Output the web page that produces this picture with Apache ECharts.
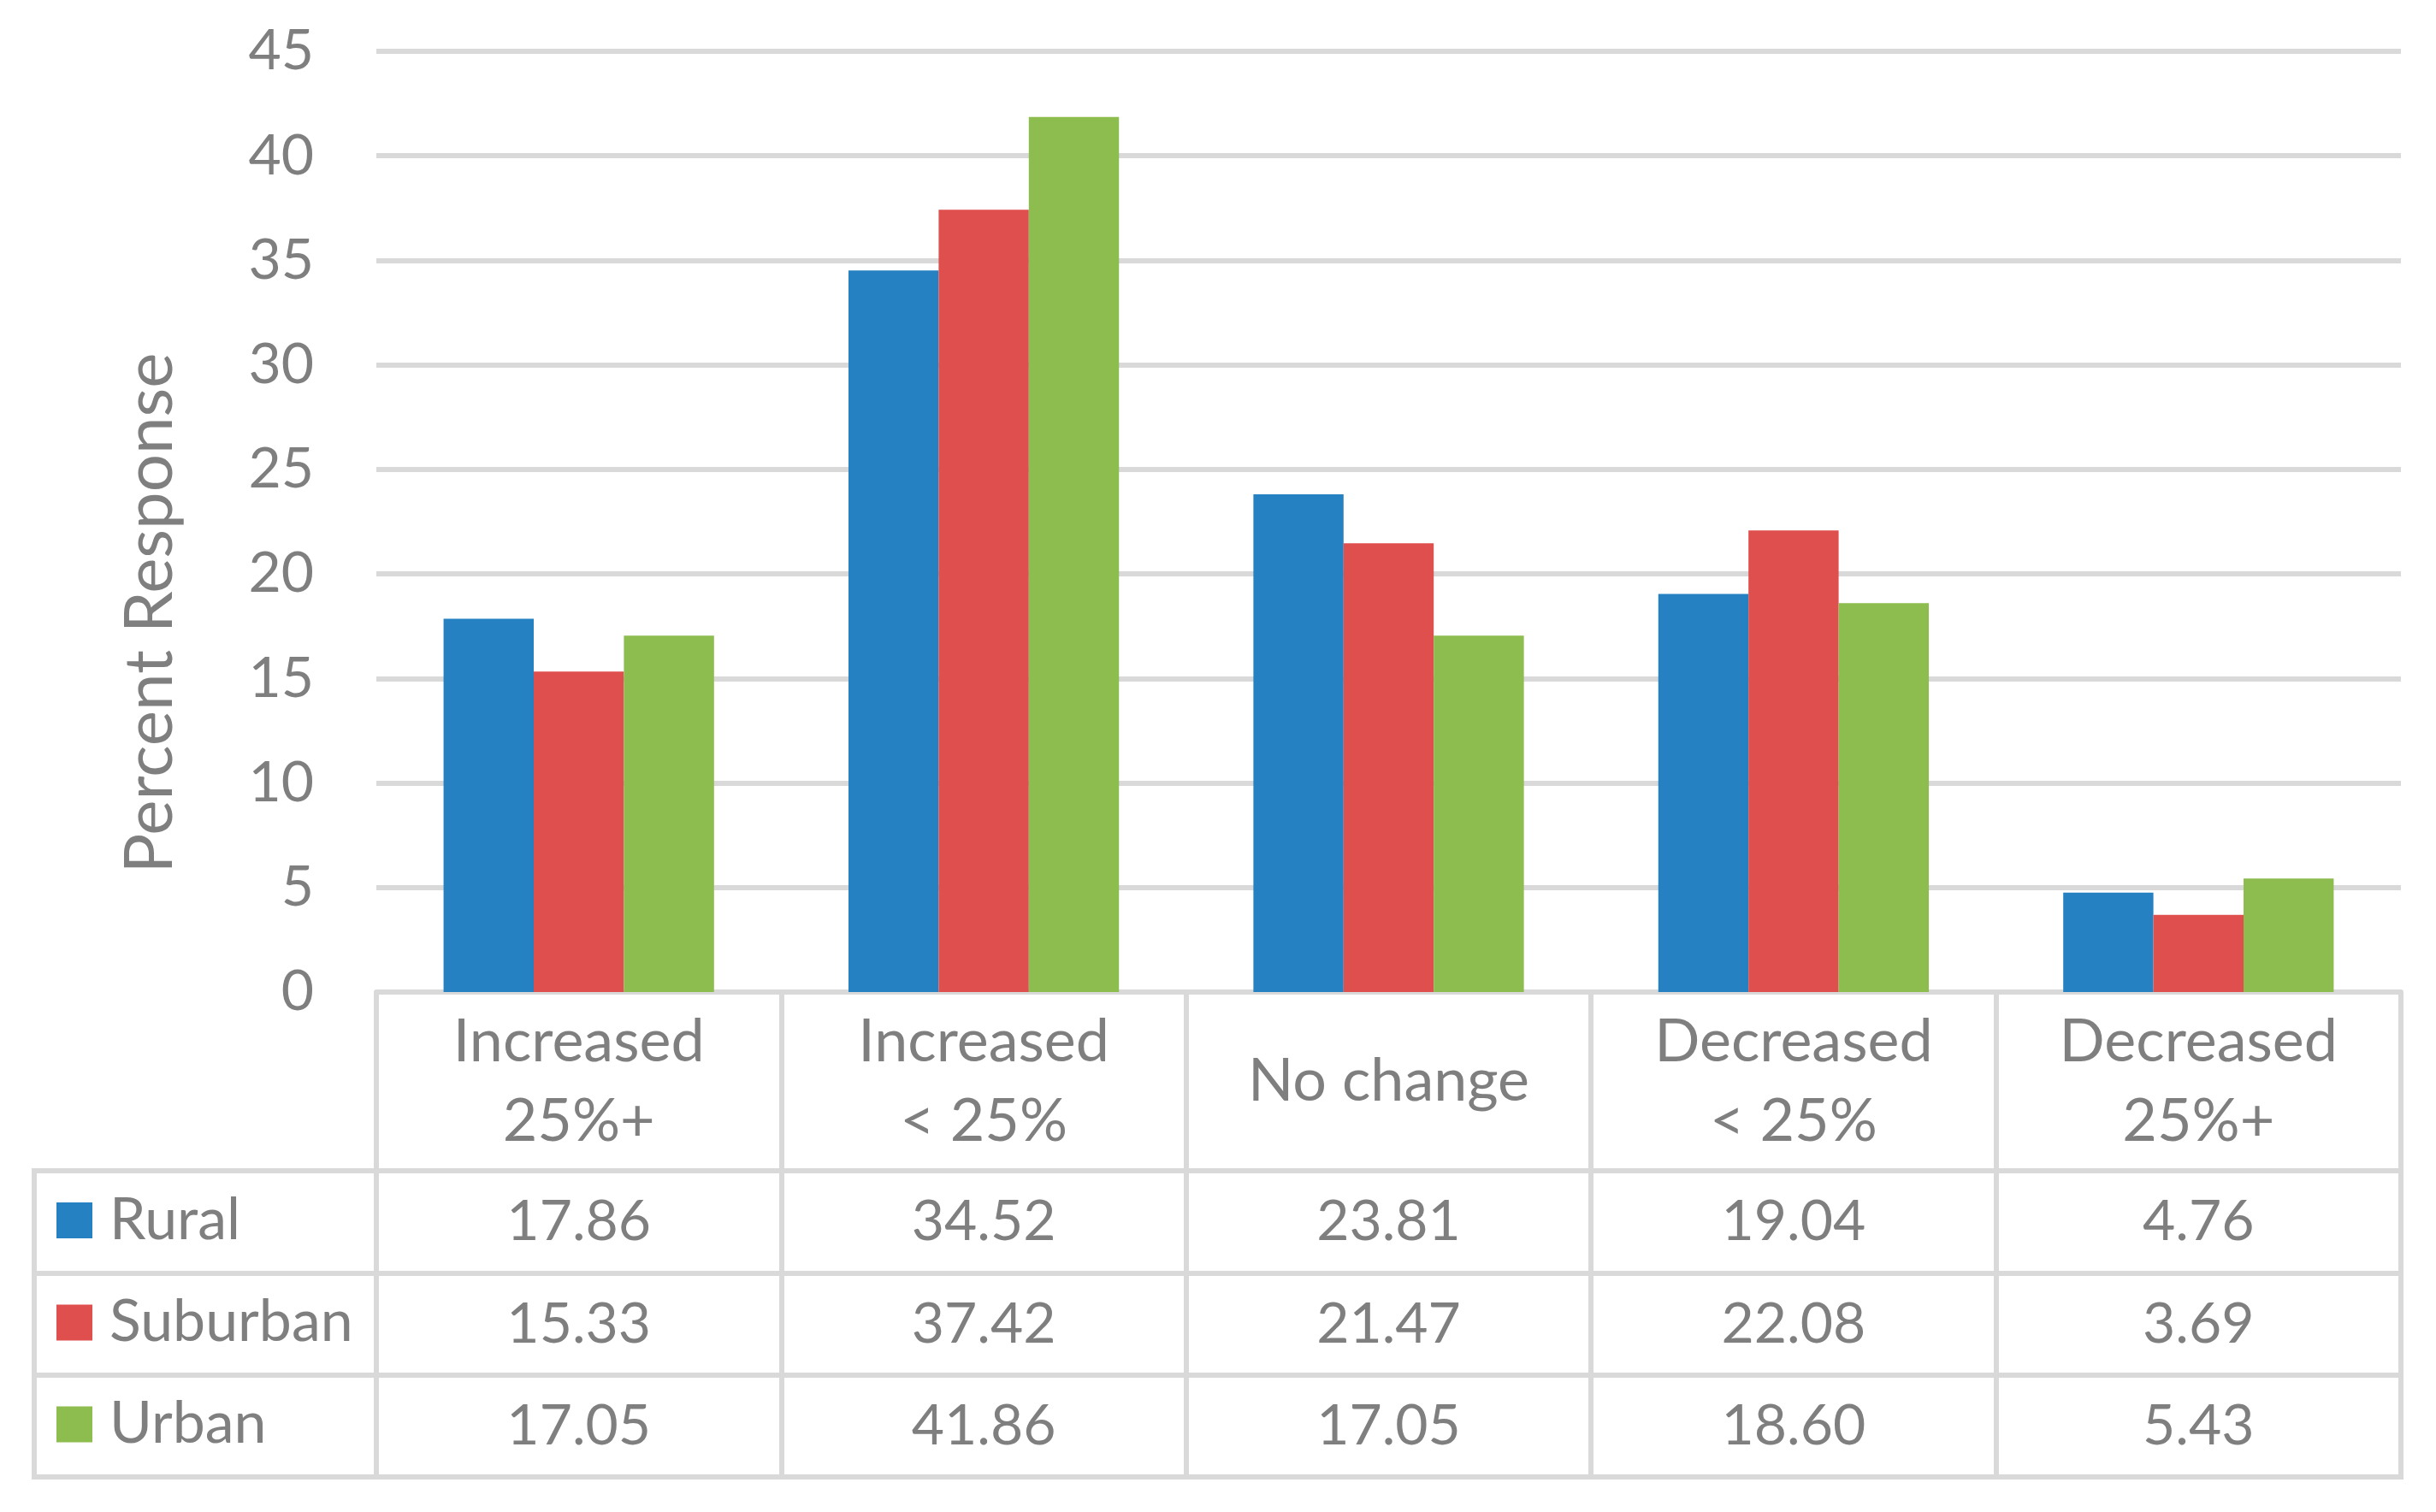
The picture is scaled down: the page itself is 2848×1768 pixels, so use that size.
<!DOCTYPE html>
<html><head><meta charset="utf-8">
<script src="https://cdn.jsdelivr.net/npm/echarts@6/dist/echarts.min.js"></script>
<style>html,body{margin:0;padding:0;background:#fff}#c{width:2848px;height:1768px}</style>
</head><body><div id="c"></div>
<script>
// ---- data ----
const categories = ['Increased\n25%+', 'Increased\n< 25%', 'No change', 'Decreased\n< 25%', 'Decreased\n25%+'];
const seriesNames = ['Rural', 'Suburban', 'Urban'];
const rural    = [17.86, 34.52, 23.81, 19.04, 4.76];
const suburban = [15.33, 37.42, 21.47, 22.08, 3.69];
const urban    = [17.05, 41.86, 17.05, 18.60, 5.43];
const yMin = 0, yMax = 45, yInterval = 5;
const yTitle = 'Percent Response';

// ---- style / layout ----
const FONT = 'Lato';
const TXT = '#7F7F7F';
const LINE = '#D9D9D9';
const LW = 6;
const colors = ['#2581C1', '#DF4F4E', '#8EBD4F'];
const gridLeft = 440, gridTop = 60, gridWidth = 2367, gridHeight = 1100;
const axisY = gridTop + gridHeight;          // 1160
const gridRight = gridLeft + gridWidth;      // 2807
const tableLeft = 40;
const rowBounds = [1369, 1489, 1608, 1727];  // header bottom, row lines, table bottom
const rows = [rural, suburban, urban];

const chart = echarts.init(document.getElementById('c'), null, {renderer: 'canvas'});

const valueAxes = rows.map((arr, k) => ({
  type: 'category', data: categories, gridIndex: 0, position: 'bottom',
  axisLine: {show: false}, axisTick: {show: false}, splitLine: {show: false},
  axisLabel: {
    interval: 0, fontFamily: FONT, fontSize: 66, color: TXT, verticalAlign: 'middle',
    margin: (rowBounds[k] + rowBounds[k + 1]) / 2 - axisY,
    formatter: (v, i) => arr[i].toFixed(2)
  }
}));

const gfx = [];
for (const y of rowBounds) {
  gfx.push({type: 'line', shape: {x1: tableLeft - LW / 2, y1: y, x2: gridRight + LW / 2, y2: y},
    style: {stroke: LINE, lineWidth: LW}, z: 10});
}
gfx.push({type: 'line', shape: {x1: tableLeft, y1: rowBounds[0] - LW / 2, x2: tableLeft, y2: rowBounds[3] + LW / 2},
  style: {stroke: LINE, lineWidth: LW}, z: 10});
// legend keys inside the table's first column
seriesNames.forEach((n, k) => {
  const cy = (rowBounds[k] + rowBounds[k + 1]) / 2 - 2;
  gfx.push({type: 'rect', shape: {x: 66, y: cy - 21, width: 42, height: 42}, style: {fill: colors[k]}, z: 10});
  gfx.push({type: 'text', x: 128, y: cy, style: {text: n, fill: TXT, font: '68px ' + FONT, align: 'left', verticalAlign: 'middle'}, z: 10});
});
gfx.push({type: 'text', x: 176, y: 717, rotation: Math.PI / 2,
  style: {text: yTitle, fill: TXT, font: '78px ' + FONT, align: 'center', verticalAlign: 'middle'}});

chart.setOption({
  backgroundColor: '#fff',
  animation: false,
  color: colors,
  grid: {left: gridLeft, top: gridTop, width: gridWidth, height: gridHeight, containLabel: false},
  xAxis: [{
    type: 'category', data: categories, position: 'bottom',
    axisLine: {show: true, lineStyle: {color: LINE, width: LW}},
    axisTick: {show: true, interval: 0, length: rowBounds[3] - axisY + LW / 2, lineStyle: {color: LINE, width: LW}},
    axisLabel: {interval: 0, fontFamily: FONT, fontSize: 70, color: TXT, lineHeight: 93,
      verticalAlign: 'middle', align: 'center', margin: (axisY + rowBounds[0]) / 2 - axisY}
  }].concat(valueAxes),
  yAxis: {
    type: 'value', min: yMin, max: yMax, interval: yInterval,
    axisLine: {show: false}, axisTick: {show: false},
    splitLine: {show: true, lineStyle: {color: LINE, width: LW}},
    axisLabel: {fontFamily: FONT, fontSize: 66, color: TXT, margin: 73}
  },
  graphic: gfx,
  series: seriesNames.map((n, k) => ({
    name: n, type: 'bar', data: rows[k], xAxisIndex: 0,
    barGap: '0%', barCategoryGap: '33.2%', itemStyle: {color: colors[k]}
  }))
});
</script></body></html>
